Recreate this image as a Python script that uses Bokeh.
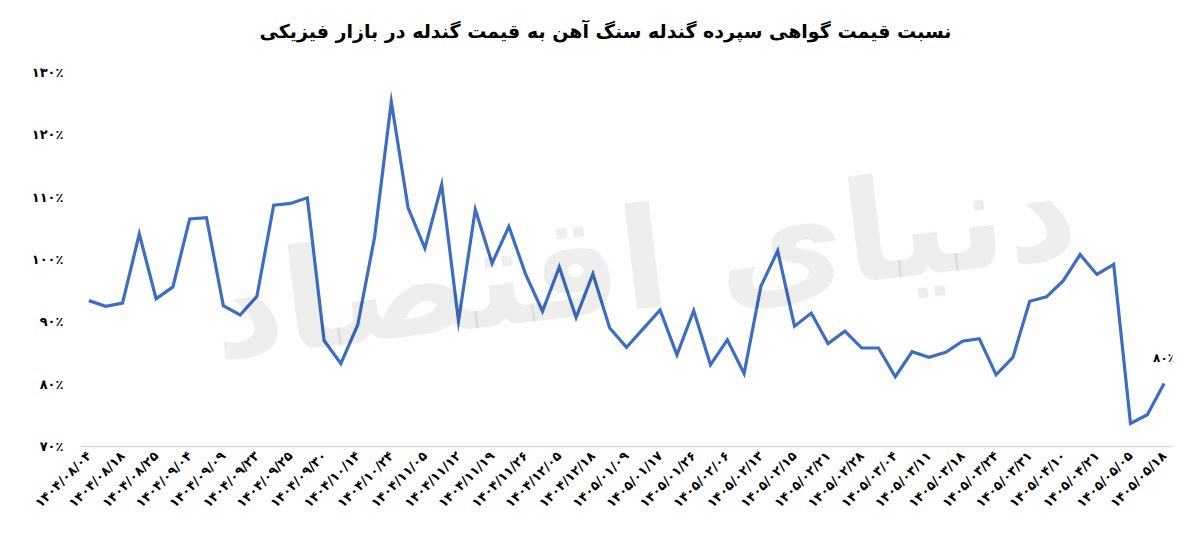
import math
from bokeh.plotting import figure
from bokeh.models import Range1d, FixedTicker, Label
from bokeh.embed import file_html
from bokeh.resources import INLINE
from bokeh.core.properties import value

FA = str.maketrans("0123456789", "۰۱۲۳۴۵۶۷۸۹")

def fa(s):
    return str(s).translate(FA)

title_text = "نسبت قیمت گواهی سپرده گندله سنگ آهن به قیمت گندله در بازار فیزیکی"
watermark = "دنیای اقتصاد"

# one label for every second point
date_labels = [
    "1404/08/04", "1404/08/18", "1404/08/25", "1404/09/04", "1404/09/09",
    "1404/09/23", "1404/09/25", "1404/09/30", "1404/10/14", "1404/10/24",
    "1404/11/05", "1404/11/12", "1404/11/19", "1404/11/26", "1404/12/05",
    "1404/12/18", "1405/01/09", "1405/01/17", "1405/01/26", "1405/02/06",
    "1405/02/13", "1405/02/15", "1405/02/21", "1405/02/28", "1405/03/04",
    "1405/03/11", "1405/03/18", "1405/03/24", "1405/03/31", "1405/04/10",
    "1405/04/21", "1405/05/05", "1405/05/18",
]

# ratio (%) for each observation
ratio = [
    93.4, 92.5, 93.0, 104.1, 93.7, 95.6, 106.5, 106.7, 92.6, 91.1,
    94.1, 108.7, 109.0, 109.9, 87.0, 83.3, 89.5, 103.5, 125.3, 108.3,
    101.8, 112.0, 90.1, 108.0, 99.4, 105.3, 97.6, 91.7, 98.8, 90.7,
    97.7, 89.0, 85.9, 88.9, 91.9, 84.7, 91.8, 83.1, 87.1, 81.7,
    95.7, 101.4, 89.3, 91.4, 86.5, 88.5, 85.8, 85.8, 81.2, 85.2,
    84.3, 85.1, 86.9, 87.3, 81.5, 84.3, 93.3, 94.0, 96.6, 100.8,
    97.6, 99.2, 73.7, 75.1, 80.1,
]

y_ticks = [70, 80, 90, 100, 110, 120, 130]

n = len(ratio)
xs = list(range(n))
label_pos = list(range(0, n, 2))

FONT = "DejaVu Sans"

# layout (pixels)
FRAME_TOP, AXIS_TOP, AXIS_BOTTOM = 12, 72, 446
px_per_unit = (AXIS_BOTTOM - AXIS_TOP) / (y_ticks[-1] - y_ticks[0])
y_top = y_ticks[-1] + (AXIS_TOP - FRAME_TOP) / px_per_unit

p = figure(width=1184, height=528, output_backend="svg", toolbar_location=None,
           x_range=Range1d(-0.5, n - 0.5), y_range=Range1d(y_ticks[0], y_top),
           min_border_left=80, min_border_right=12, min_border_top=FRAME_TOP,
           min_border_bottom=82)
p.outline_line_color = None
p.background_fill_color = "white"
p.border_fill_color = "white"
p.xgrid.grid_line_color = None
p.ygrid.grid_line_color = None

# title (drawn inside the frame's top band)
title_y = y_ticks[-1] + (AXIS_TOP - 30) / px_per_unit
title_x = (605 - 80) / (1092 / n) - 0.5
p.add_layout(Label(x=title_x, y=title_y, text=title_text,
                   text_align="center", text_baseline="middle", text_font=FONT,
                   text_font_size="19px", text_font_style="bold", text_color="#000000"))

# watermark
p.add_layout(Label(x=(n - 1) / 2 + 1, y=100, text=watermark, text_align="center",
                   text_baseline="middle", text_font=FONT, text_font_size="140px",
                   text_font_style="bold", text_color="#000000", text_alpha=0.065,
                   angle=0.12))

p.line(xs, ratio, line_color="#3E6DC4", line_width=3.2, line_join="miter")

p.text(x=[xs[-1]], y=[ratio[-1]], text=[fa(round(ratio[-1])) + "٪"],
       text_font=value(FONT), text_font_size="12px", text_font_style="bold",
       text_align="center", text_baseline="middle", y_offset=-26, text_color="#000000")

# y axis
p.yaxis.ticker = FixedTicker(ticks=y_ticks)
p.yaxis.major_label_overrides = {t: fa(t) + "٪" for t in y_ticks}
p.yaxis.axis_line_color = None
p.yaxis.major_tick_line_color = None
p.yaxis.minor_tick_line_color = None
p.yaxis.major_tick_out = 0
p.yaxis.major_tick_in = 0
p.yaxis.major_label_standoff = 17
p.yaxis.major_label_text_font = FONT
p.yaxis.major_label_text_font_size = "13px"
p.yaxis.major_label_text_font_style = "bold"
p.yaxis.major_label_text_color = "#000000"

# x axis
p.xaxis.ticker = FixedTicker(ticks=label_pos)
p.xaxis.major_label_overrides = {pos: fa(lbl) for pos, lbl in zip(label_pos, date_labels)}
p.xaxis.axis_line_color = "#D9D9D9"
p.xaxis.axis_line_width = 1.5
p.xaxis.major_tick_line_color = None
p.xaxis.minor_tick_line_color = None
p.xaxis.major_tick_out = 0
p.xaxis.major_tick_in = 0
p.xaxis.major_label_orientation = math.pi / 4
p.xaxis.major_label_standoff = 7
p.xaxis.major_label_text_font = FONT
p.xaxis.major_label_text_font_size = "13px"
p.xaxis.major_label_text_font_style = "bold"
p.xaxis.major_label_text_color = "#000000"

open("out.html", "w").write(file_html(p, INLINE))
